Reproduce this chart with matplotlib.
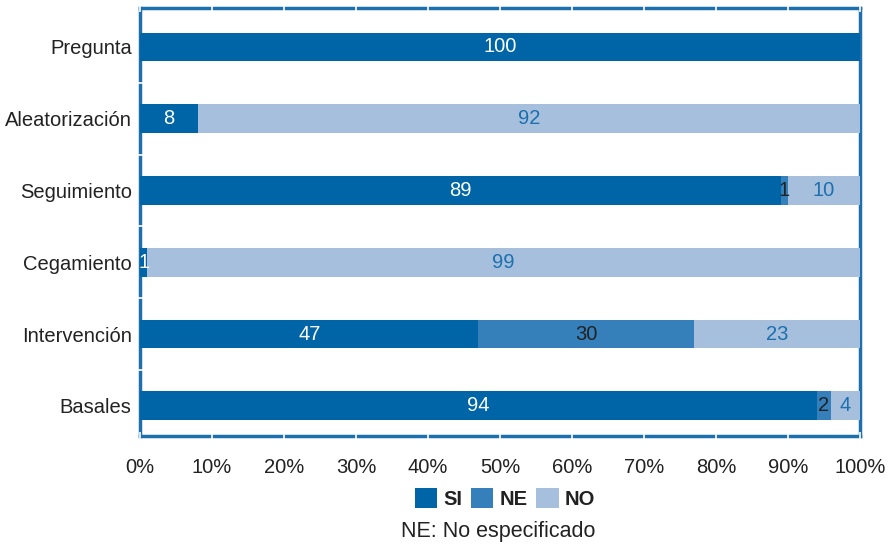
import matplotlib.pyplot as plt
import numpy as np

plt.rcParams['font.family'] = ['Liberation Sans', 'DejaVu Sans']

categories = ['Pregunta', 'Aleatorización', 'Seguimiento', 'Cegamiento', 'Intervención', 'Basales']
si = [100, 8, 89, 1, 47, 94]
ne = [0, 0, 1, 0, 30, 2]
no = [0, 92, 10, 99, 23, 4]
xticks = [0, 10, 20, 30, 40, 50, 60, 70, 80, 90, 100]

c_si = '#0065a7'
c_ne = '#3580bb'
c_no = '#a5bfdd'
c_frame = '#1d6fae'

fig = plt.figure(figsize=(8.92, 5.45), dpi=100)
ax = fig.add_axes([0.157, 0.2, 0.807, 0.785])

y = np.arange(len(categories))[::-1]
si = np.array(si); ne = np.array(ne); no = np.array(no)
h = 0.4
b1 = ax.barh(y, si, height=h, color=c_si, label='SI')
b2 = ax.barh(y, ne, left=si, height=h, color=c_ne, label='NE')
b3 = ax.barh(y, no, left=si + ne, height=h, color=c_no, label='NO')

for i in range(len(categories)):
    segs = [(si[i], 0, 'white'), (ne[i], si[i], '#222222'), (no[i], si[i] + ne[i], '#1d6fae')]
    for val, left, col in segs:
        if val > 0:
            ax.text(left + val / 2, y[i], str(val), ha='center', va='center',
                    color=col, fontsize=14.5)

ax.set_xlim(0, 100)
ax.set_ylim(-0.42, 5.54)
ax.set_xticks(xticks)
ax.set_xticklabels([f'{t}%' for t in xticks], fontsize=14.5, color='#222222')
ax.set_yticks(y)
ax.set_yticklabels(categories, fontsize=14.5, color='#222222')
ax.set_yticks(np.arange(len(categories) - 1) + 0.5, minor=True)
ax.tick_params(axis='y', which='major', length=0, pad=6)
ax.tick_params(axis='y', which='minor', length=5, color='white', direction='inout', width=1.2)
ax.tick_params(axis='x', which='major', length=6, color='white', direction='inout', width=1.2,
               top=True, pad=13)

for s in ax.spines.values():
    s.set_color(c_frame)
    s.set_linewidth(2.5)
    s.set_zorder(0.5)

leg = fig.legend(handles=[b1, b2, b3], loc='center', bbox_to_anchor=(0.566, 0.085), ncol=3,
                 frameon=False, handlelength=1.1, handleheight=1.1, handletextpad=0.3,
                 columnspacing=0.45, prop={'size': 14.5, 'weight': 'bold'})
for t in leg.get_texts():
    t.set_color('#222222')
fig.text(0.558, 0.024, 'NE: No especificado', ha='center', va='center', fontsize=15.5, color='#222222')

fig.savefig('out.png', dpi=100)
